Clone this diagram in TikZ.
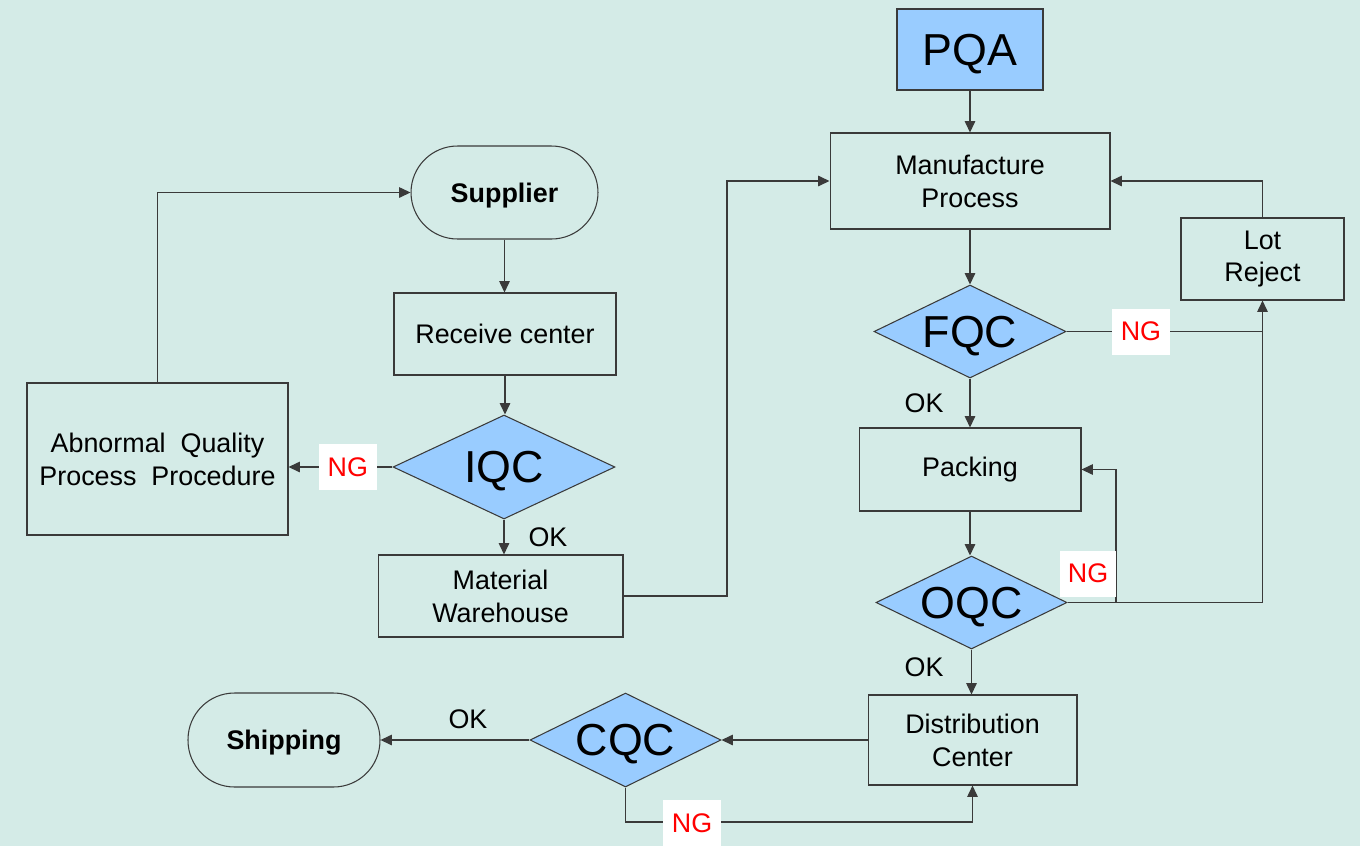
\documentclass[tikz,border=0pt]{standalone}
\usepackage{fontspec}
\setmainfont{Liberation Sans}
\usetikzlibrary{shapes.geometric,arrows.meta}
\definecolor{bgc}{HTML}{D4EBE7}
\definecolor{bluef}{HTML}{99CCFF}
\definecolor{linec}{HTML}{3A3A3A}
\tikzset{
  box/.style={draw=linec, line width=0.6pt, rectangle, align=center, font=\fontsize{15.3}{18.7}\selectfont, inner sep=0pt},
  stad/.style={draw=linec, line width=0.6pt, rectangle, rounded corners=0.93cm, align=center, font=\fontsize{15.3}{18.7}\selectfont\bfseries, inner sep=0pt, text depth=0pt},
  dia/.style={draw=linec, line width=0.6pt, diamond, fill=bluef, inner sep=0pt, aspect=2.06, text depth=0pt, font=\fontsize{25.5}{30}\selectfont},
  conn/.style={draw=linec, line width=0.7pt},
  arr/.style={conn, -{Triangle[length=6.5pt, width=6pt]}},
  ng/.style={fill=white, text=red, font=\fontsize{15.3}{18}\selectfont, minimum width=1.16cm, minimum height=0.92cm, inner sep=0pt},
  ok/.style={font=\fontsize{15.3}{18}\selectfont, inner sep=0pt}
}
\begin{document}
\begin{tikzpicture}[x=0.02cm, y=-0.02cm]
\fill[bgc] (0,0) rectangle (1360,846);
\useasboundingbox (0,0) rectangle (1360,846);

% left column
\node[stad, minimum width=3.74cm, minimum height=1.86cm] (supp) at (504.5,192.5) {Supplier};
\node[box, minimum width=4.44cm, minimum height=1.64cm] (recv) at (505,334) {Receive center};
\node[dia, aspect=2.13, minimum width=4.44cm, minimum height=2.08cm] (iqc) at (504,467) {IQC};
\node[box, minimum width=5.22cm, minimum height=3.04cm] (abn) at (157.5,459) {Abnormal\ \ Quality\\Process\ \ Procedure};
\node[box, minimum width=4.9cm, minimum height=1.64cm] (mat) at (500.5,596) {Material\\Warehouse};

% right column
\node[box, fill=bluef, minimum width=2.92cm, minimum height=1.62cm, text depth=0pt, font=\fontsize{25.5}{30}\selectfont] (pqa) at (970,49.5) {PQA};
\node[box, minimum width=5.6cm, minimum height=1.92cm] (manu) at (970,181) {Manufacture\\Process};
\node[box, minimum width=3.26cm, minimum height=1.64cm] (lot) at (1262.5,259) {Lot\\Reject};
\node[dia, minimum width=3.84cm, minimum height=1.86cm] (fqc) at (970,331.5) {FQC};
\node[box, minimum width=4.44cm, minimum height=1.66cm] (pack) at (970,469.5) {Packing};
\node[dia, minimum width=3.82cm, minimum height=1.86cm] (oqc) at (971.5,602.5) {OQC};
\node[box, minimum width=4.18cm, minimum height=1.8cm] (dist) at (972.5,740) {Distribution\\Center};

% bottom row
\node[dia, aspect=2.03, minimum width=3.82cm, minimum height=1.88cm] (cqc) at (625.5,740) {CQC};
\node[stad, minimum width=3.84cm, minimum height=1.88cm] (ship) at (284,740) {Shipping};

% helper coordinates
\coordinate (c1) at (727,0);
\coordinate (c3) at (1116,0);
\coordinate (c4) at (0,822);

% connectors left
\draw[arr] (supp.south) -- (supp.south |- recv.north);
\draw[arr] (recv.south) -- (recv.south |- iqc.north);
\draw[arr] (iqc.west) -- (iqc.west -| abn.east) node[ng, pos=0.43] (ng1) {NG};
\draw[arr] (iqc.south) -- (iqc.south |- mat.north);
\node[ok] (ok1) at (548,537) {OK};
\draw[arr] (abn.north) |- (supp.west);
\draw[arr] (mat.east) -- (mat.east -| c1) -- (c1 |- manu.west) -- (manu.west);

% connectors right
\draw[arr] (pqa.south) -- (manu.north);
\draw[arr] (manu.south) -- (fqc.north);
\draw[arr] (fqc.east) -| (lot.south) node[ng, pos=0.19] (ng2) {NG};
\draw[arr] (lot.north) |- (manu.east);
\draw[arr] (fqc.south) -- (pack.north);
\node[ok] (ok2) at (924,403) {OK};
\draw[arr] (pack.south) -- (pack.south |- oqc.north);
\draw[conn] (oqc.east) -| (fqc.east -| lot.south);
\draw[arr] (oqc.east -| c3) -- (c3 |- pack.east) -- (pack.east);
\node[ng, minimum width=1.12cm] (ng3) at (1088,573.5) {NG};
\draw[arr] (oqc.south) -- (oqc.south |- dist.north);
\node[ok] (ok3) at (924,667) {OK};

% bottom connectors
\draw[arr] (dist.west) -- (cqc.east);
\draw[arr] (cqc.west) -- (ship.east);
\node[ok] (ok4) at (468,719) {OK};
\draw[arr] (cqc.south) -- (cqc.south |- c4) -- (dist.south |- c4) -- (dist.south);
\node[ng] (ng4) at (692,823) {NG};
\end{tikzpicture}
\end{document}
